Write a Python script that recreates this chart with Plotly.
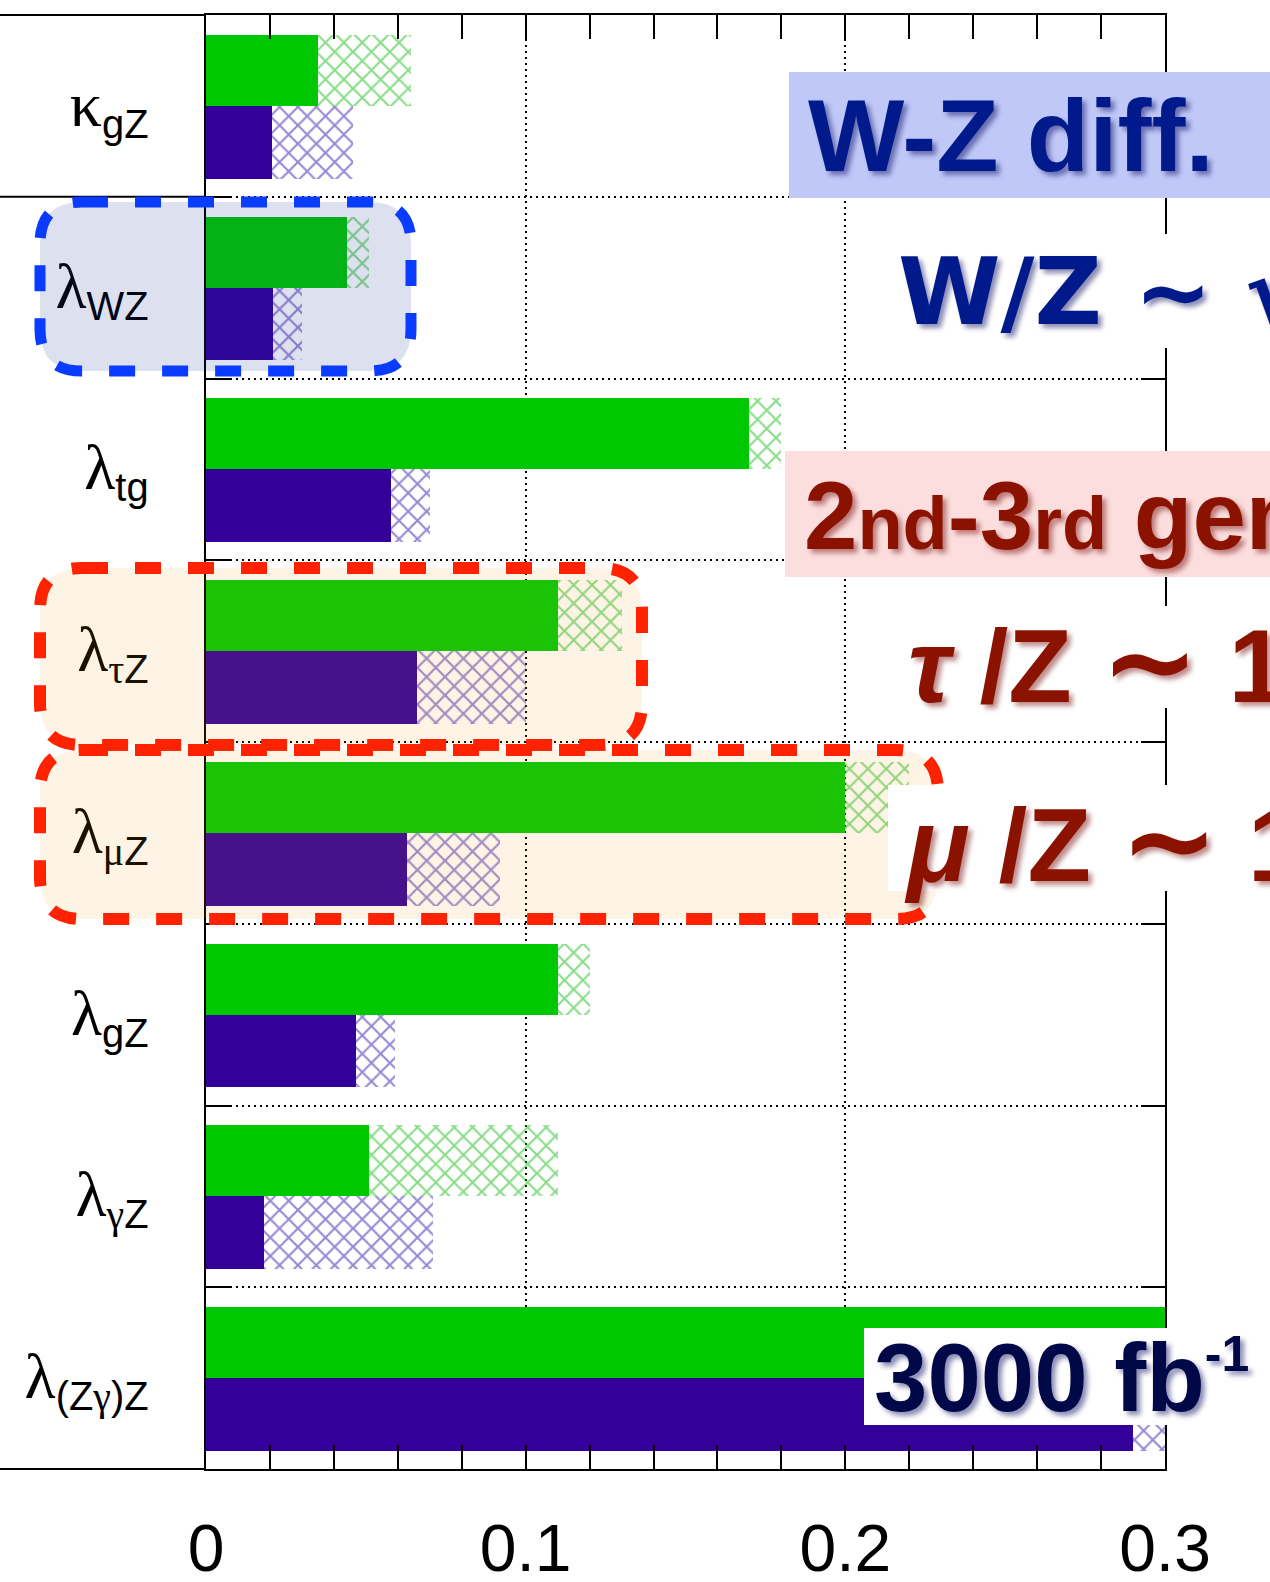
import plotly.graph_objects as go

# ---------------- data ----------------
SERIF = '<span style="font-family:Liberation Serif;font-size:64px">'
GS = '<span style="font-family:Liberation Serif">'
row_labels = [
    SERIF + 'κ</span><sub>gZ</sub>',
    SERIF + 'λ</span><sub>WZ</sub>',
    SERIF + 'λ</span><sub>tg</sub>',
    SERIF + 'λ</span><sub>' + GS + 'τ</span>Z</sub>',
    SERIF + 'λ</span><sub>' + GS + 'μ</span>Z</sub>',
    SERIF + 'λ</span><sub>gZ</sub>',
    SERIF + 'λ</span><sub>' + GS + 'γ</span>Z</sub>',
    SERIF + 'λ</span><sub>(Z' + GS + 'γ</span>)Z</sub>',
]
rows = [0, 1, 2, 3, 4, 5, 6, 7]

green_solid = [0.035, 0.044, 0.170, 0.110, 0.200, 0.110, 0.051, 0.300]
green_total = [0.064, 0.051, 0.180, 0.130, 0.220, 0.120, 0.110, 0.300]
purple_solid = [0.0205, 0.021, 0.058, 0.066, 0.063, 0.047, 0.018, 0.290]
purple_total = [0.046, 0.030, 0.070, 0.100, 0.092, 0.059, 0.071, 0.300]

x_ticks = [0, 0.1, 0.2, 0.3]
x_ticktext = ["0", "0.1", "0.2", "0.3"]

GREEN = "#00c800"
PURPLE = "#330099"

# ---------------- geometry helpers (pixels -> paper) ----------------
W, H = 1270, 1582
L, R, T, B = 206, 105, 15, 113
PW, PH = W - L - R, H - T - B


def px(x):
    return (x - L) / PW


def py(y):
    return 1 - (y - T) / PH


def rounded_path(x0, y0, x1, y1, r):
    pts = [
        ("M", (x0 + r, y0)), ("L", (x1 - r, y0)), ("Q", (x1, y0), (x1, y0 + r)),
        ("L", (x1, y1 - r)), ("Q", (x1, y1), (x1 - r, y1)), ("L", (x0 + r, y1)),
        ("Q", (x0, y1), (x0, y1 - r)), ("L", (x0, y0 + r)), ("Q", (x0, y0), (x0 + r, y0)),
    ]
    s = ""
    for p in pts:
        cmd = p[0]
        coords = " ".join(f"{px(a):.5f},{py(b):.5f}" for a, b in p[1:])
        s += f"{cmd} {coords} "
    return s + "Z"


fig = go.Figure()

# solid bars
fig.add_trace(go.Bar(orientation="h", y=rows, x=green_solid, base=0, offset=-0.39, width=0.39,
                     marker=dict(color=GREEN, line=dict(width=0)), showlegend=False))
fig.add_trace(go.Bar(orientation="h", y=rows, x=purple_solid, base=0, offset=0.0, width=0.40,
                     marker=dict(color=PURPLE, line=dict(width=0)), showlegend=False))
# hatched extensions
fig.add_trace(go.Bar(orientation="h", y=rows,
                     x=[t - s for s, t in zip(green_solid, green_total)], base=green_solid,
                     offset=-0.39, width=0.39,
                     marker=dict(color="rgba(0,0,0,0)", line=dict(width=0),
                                 pattern=dict(shape="x", fgcolor="#11bb11", bgcolor="rgba(0,0,0,0)",
                                              size=13, solidity=0.3, fillmode="overlay")),
                     showlegend=False))
fig.add_trace(go.Bar(orientation="h", y=rows,
                     x=[t - s for s, t in zip(purple_solid, purple_total)], base=purple_solid,
                     offset=0.0, width=0.40,
                     marker=dict(color="rgba(0,0,0,0)", line=dict(width=0),
                                 pattern=dict(shape="x", fgcolor="#3311aa", bgcolor="rgba(0,0,0,0)",
                                              size=13, solidity=0.3, fillmode="overlay")),
                     showlegend=False))

shapes = []
# frame lines extended to the left edge
for yy in [1.0, 0.875, 0.0]:
    shapes.append(dict(type="line", xref="paper", yref="paper", x0=px(0), x1=0, y0=yy, y1=yy,
                       line=dict(color="black", width=2), layer="above"))

# highlight boxes
shapes.append(dict(type="path", xref="paper", yref="paper", path=rounded_path(40, 202, 411, 371, 42),
                   fillcolor="rgba(30,50,150,0.15)", line=dict(color="#0a3cff", width=11, dash="26px,27px"),
                   layer="above"))
shapes.append(dict(type="path", xref="paper", yref="paper", path=rounded_path(40, 568, 642, 745, 42),
                   fillcolor="rgba(236,155,28,0.11)", line=dict(color="#ff2200", width=12, dash="26px,27px"),
                   layer="above"))
shapes.append(dict(type="path", xref="paper", yref="paper", path=rounded_path(40, 750, 938, 919, 42),
                   fillcolor="rgba(236,155,28,0.11)", line=dict(color="#ff2200", width=12, dash="26px,27px"),
                   layer="above"))

# label backgrounds
shapes.append(dict(type="rect", xref="paper", yref="paper", x0=px(789), x1=px(1275), y0=py(72), y1=py(198),
                   fillcolor="#c0c8f8", line=dict(width=0), layer="above"))
shapes.append(dict(type="rect", xref="paper", yref="paper", x0=px(888), x1=px(1275), y0=py(234), y1=py(348),
                   fillcolor="white", line=dict(width=0), layer="above"))
shapes.append(dict(type="rect", xref="paper", yref="paper", x0=px(785), x1=px(1275), y0=py(451), y1=py(577),
                   fillcolor="#fcdede", line=dict(width=0), layer="above"))
shapes.append(dict(type="rect", xref="paper", yref="paper", x0=px(888), x1=px(1275), y0=py(606), y1=py(708),
                   fillcolor="white", line=dict(width=0), layer="above"))
shapes.append(dict(type="rect", xref="paper", yref="paper", x0=px(888), x1=px(1275), y0=py(785), y1=py(891),
                   fillcolor="white", line=dict(width=0), layer="above"))
shapes.append(dict(type="rect", xref="paper", yref="paper", x0=px(864), x1=px(1275), y0=py(1328), y1=py(1425),
                   fillcolor="white", line=dict(width=0), layer="above"))

BLUE_T = "#001a8c"
RED_T = "#8c1200"
blue_shadow = "4px 4px 5px rgba(0,0,90,0.45)"
red_shadow = "4px 4px 5px rgba(110,0,0,0.45)"
WIDE = "DejaVu Sans"
TILDE = '<span style="font-family:DejaVu Sans;font-size:118px">∼</span>'

annotations = [
    dict(text="W-Z diff.", x=px(806), y=py(136),
         font=dict(size=102, color=BLUE_T, family="Liberation Sans", weight="bold", shadow=blue_shadow)),
    dict(text="W/Z ∼ √", x=px(896), y=py(292),
         font=dict(size=93, color=BLUE_T, family=WIDE, weight="bold", shadow=blue_shadow)),
    dict(text='2<span style="font-size:74px">nd</span>-3<span style="font-size:74px">rd</span> gen.',
         x=px(802), y=py(515),
         font=dict(size=96, color=RED_T, family="Liberation Sans", weight="bold", shadow=red_shadow)),
    dict(text='<i>τ</i> /Z ' + TILDE + ' 1', x=px(906), y=py(661),
         font=dict(size=104, color=RED_T, family="Liberation Sans", weight="bold", shadow=red_shadow)),
    dict(text='<i>μ</i> /Z ' + TILDE + ' 1', x=px(902), y=py(840),
         font=dict(size=104, color=RED_T, family="Liberation Sans", weight="bold", shadow=red_shadow)),
    dict(text='3000 fb<sup><span style="font-size:50px">-1</span></sup>', x=px(872), y=py(1377),
         font=dict(size=96, color="#000848", family="Liberation Sans", weight="bold", shadow=blue_shadow)),
]
for a in annotations:
    a.update(xref="paper", yref="paper", xanchor="left", yanchor="middle", showarrow=False)

fig.update_layout(
    width=W, height=H, autosize=False,
    margin=dict(l=L, r=R, t=T, b=B, pad=0, autoexpand=False),
    plot_bgcolor="white", paper_bgcolor="white",
    barmode="overlay", bargap=0,
    shapes=shapes, annotations=annotations,
    font=dict(family="Liberation Sans", color="black"),
)

fig.update_xaxes(
    range=[0, 0.3], tickvals=x_ticks, ticktext=x_ticktext,
    tickfont=dict(size=66, family="Liberation Sans", color="black"),
    ticks="inside", ticklen=24, tickwidth=2, tickcolor="black",
    showline=True, linecolor="black", linewidth=2, mirror="allticks",
    showgrid=True, gridcolor="black", gridwidth=2, griddash="2px,4px",
    minor=dict(dtick=0.02, tick0=0, ticks="inside", ticklen=24, tickwidth=2, tickcolor="black", showgrid=False),
    zeroline=False, ticklabelstandoff=21, automargin=False,
)
fig.update_yaxes(
    range=[7.5, -0.5], tickvals=rows, ticktext=row_labels,
    tickfont=dict(size=57, family="Liberation Sans", color="black"),
    ticks="", showline=True, linecolor="black", linewidth=2, mirror="allticks",
    showgrid=False, zeroline=False, ticklabelstandoff=44, automargin=False,
    minor=dict(tickvals=[0.5, 1.5, 2.5, 3.5, 4.5, 5.5, 6.5], ticks="inside", ticklen=24, tickwidth=2,
               tickcolor="black", showgrid=True, gridcolor="black", gridwidth=2, griddash="2px,4px"),
)

fig.write_html("out.html")
